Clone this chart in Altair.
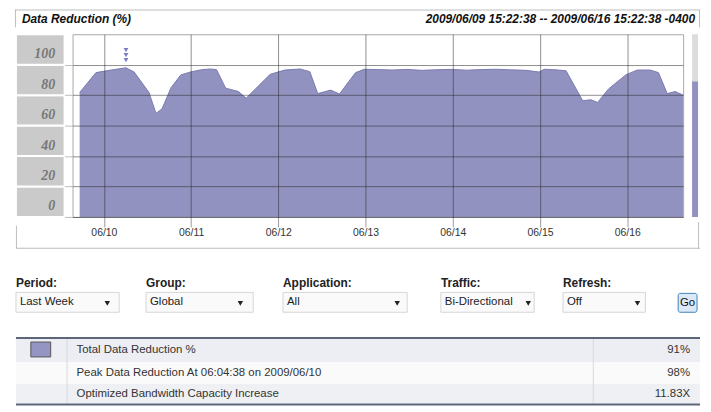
import altair as alt
import pandas as pd

# ---------------- data ----------------
times = [
    "2009-06-09T17:20", "2009-06-09T21:50", "2009-06-10T01:30", "2009-06-10T06:04:38",
    "2009-06-10T08:20", "2009-06-10T12:25", "2009-06-10T14:20", "2009-06-10T16:00",
    "2009-06-10T18:30", "2009-06-10T21:10", "2009-06-10T23:50", "2009-06-11T02:50",
    "2009-06-11T05:20", "2009-06-11T07:00", "2009-06-11T09:30", "2009-06-11T13:00",
    "2009-06-11T15:10", "2009-06-11T18:30", "2009-06-11T21:45", "2009-06-12T01:50",
    "2009-06-12T06:00", "2009-06-12T08:40", "2009-06-12T10:50", "2009-06-12T14:25",
    "2009-06-12T16:50", "2009-06-12T19:05", "2009-06-12T21:15", "2009-06-12T23:40",
    "2009-06-13T03:15", "2009-06-13T07:20", "2009-06-13T11:25", "2009-06-13T15:30",
    "2009-06-13T19:35", "2009-06-13T23:45", "2009-06-14T03:50", "2009-06-14T07:55",
    "2009-06-14T12:00", "2009-06-14T16:05", "2009-06-14T20:10", "2009-06-14T23:45",
    "2009-06-15T01:10", "2009-06-15T04:25", "2009-06-15T07:10", "2009-06-15T11:45",
    "2009-06-15T14:00", "2009-06-15T15:50", "2009-06-15T18:50", "2009-06-15T23:35",
    "2009-06-16T02:45", "2009-06-16T06:20", "2009-06-16T08:35", "2009-06-16T11:00",
    "2009-06-16T13:10", "2009-06-16T15:22:38",
]
values = [
    81.7, 94.8, 96.3, 98.0,
    95.2, 81.7, 68.0, 71.0,
    85.0, 93.3, 95.2, 96.7,
    97.2, 96.7, 84.6, 82.4,
    78.0, 86.0, 93.7, 96.5,
    97.2, 95.4, 81.0, 83.3,
    80.7, 88.0, 94.8, 97.0,
    96.8, 96.5, 96.9, 96.3,
    96.7, 96.9, 96.4, 96.8,
    97.0, 96.6, 96.3, 95.2,
    97.0, 96.6, 96.0, 76.3,
    77.0, 75.2, 84.0, 93.3,
    96.5, 96.5, 94.8, 81.0,
    82.4, 80.0,
]
peak_time = ["2009-06-10T06:04:38"]
current_value = 89

y_ticks = [0, 20, 40, 60, 80, 100]
cell_lo = [0, 20, 40, 60, 80, 100]
cell_hi = [20, 40, 60, 80, 100, 120]
x_days = [10, 11, 12, 13, 14, 15, 16]

title_left = "Data Reduction (%)"
title_right = "2009/06/09 15:22:38 -- 2009/06/16 15:22:38 -0400"

control_labels = ["Period:", "Group:", "Application:", "Traffic:", "Refresh:"]
control_values = ["Last Week", "Global", "All", "Bi-Directional", "Off"]

table_labels = [
    "Total Data Reduction %",
    "Peak Data Reduction At 06:04:38 on 2009/06/10",
    "Optimized Bandwidth Capacity Increase",
]
table_values = ["91%", "98%", "11.83X"]

# ---------------- layout helpers ----------------
OX, OY = 73, 33          # page coords of plot origin
PW, PH = 615, 184        # plot size
one = pd.DataFrame({"k": [0]})
FONT = "Liberation Sans"


def P(X):
    return X - OX


def Q(Y):
    return Y - OY


def box(x0, y0, x1, y1, **kw):
    return alt.Chart(one).mark_rect(**kw).encode(
        x=alt.value(P(x0)), x2=alt.value(P(x1)),
        y=alt.value(Q(y0)), y2=alt.value(Q(y1)))


def txt(s, X, Y, align="left", size=11.5, weight="normal", style="normal",
        color="#222", font=FONT):
    return alt.Chart(one).mark_text(
        text=s, align=align, baseline="middle", fontSize=size,
        fontWeight=weight, fontStyle=style, color=color, font=font
    ).encode(x=alt.value(P(X)), y=alt.value(Q(Y)))


def arrow(X, Y):
    return alt.Chart(one).mark_point(
        shape="triangle-down", filled=True, size=30, color="#222", opacity=1
    ).encode(x=alt.value(P(X)), y=alt.value(Q(Y)))


xscale = alt.Scale(domain=[
    alt.DateTime(year=2009, month=6, date=9, hours=15, minutes=22, seconds=38),
    alt.DateTime(year=2009, month=6, date=16, hours=15, minutes=22, seconds=38)])
yscale = alt.Scale(domain=[0, 120], nice=False)

xaxis = alt.Axis(
    values=[alt.DateTime(year=2009, month=6, date=d) for d in x_days],
    format="%m/%d", labelFont=FONT, labelFontSize=10.5, labelColor="#333",
    tickSize=10, tickColor="#222", tickOpacity=0.45, gridColor="#222",
    gridOpacity=0.5, domain=False, labelPadding=1, zindex=1,
    labelOverlap=False, labelFlush=False, title=None)
yaxis = alt.Axis(
    values=y_ticks, labelOffset=-11, labelBaseline="middle", labelAlign="right",
    labelFont="Liberation Serif", labelFontStyle="italic", labelFontWeight="bold",
    labelFontSize=14, labelColor="#777", tickSize=8, tickColor="#bbb",
    labelPadding=10, gridColor="#222", gridOpacity=0.5, domain=False, zindex=1,
    labelOverlap=False, labelFlush=False, title=None)

BORDER = "#bdbdbd"
layers = []

# main area (first layer: owns the axes)
df = pd.DataFrame({"t": times, "v": values})
area = alt.Chart(df).mark_area(
    color="#9292c0", opacity=1, interpolate="linear",
    line={"color": "#7a7ab0", "strokeWidth": 1}
).encode(
    x=alt.X("t:T", scale=xscale, axis=xaxis),
    y=alt.Y("v:Q", scale=yscale, axis=yaxis),
)
layers.append(area)

# y label cells
cells = pd.DataFrame({"lo": cell_lo, "hi": cell_hi})
layers.append(
    alt.Chart(cells).mark_rect(fill="#cacaca", stroke="white", strokeWidth=2).encode(
        y=alt.Y("lo:Q", scale=yscale, axis=yaxis), y2="hi:Q",
        x=alt.value(P(16)), x2=alt.value(P(65)))
)

# title bar
layers += [
    box(15, 8, 705, 9, color=BORDER),
    box(15, 8, 16, 26, color=BORDER),
    box(704, 8, 705, 26, color=BORDER),
    txt(title_left, 22, 18, size=12, weight="bold", style="italic", color="#111"),
    txt(title_right, 700, 18, align="right", size=12, weight="bold",
        style="italic", color="#111"),
]
# bottom frame of chart
layers += [
    box(16, 226, 17, 249, color=BORDER),
    box(16, 248, 705, 249, color=BORDER),
    box(703, 222, 704, 249, color=BORDER),
]

# peak markers
pk = pd.DataFrame({"t": peak_time})
for yy in (49, 54, 59):
    layers.append(
        alt.Chart(pk).mark_point(shape="triangle-down", filled=True, size=24,
                                 color="#7c7cc6", opacity=1).encode(
            x=alt.X("t:T", scale=xscale, axis=xaxis), y=alt.value(Q(yy))))

# right side bar
layers += [
    box(697, 33, 703, 217, color="#dcdcdc"),
    alt.Chart(one).mark_rect(color="#9292c0").encode(
        y=alt.Y(datum=current_value, scale=yscale, axis=yaxis), y2=alt.Y2(datum=0),
        x=alt.value(P(697)), x2=alt.value(P(703))),
]

# controls
lab_x = [16, 147, 285, 444, 567]
box_r = [120, 255, 410, 538, 650]
arr_x = [108, 242, 400, 532, 642]
for i in range(5):
    layers += [
        txt(control_labels[i], lab_x[i], 284, size=12, weight="bold", color="#222"),
        box(lab_x[i], 293, box_r[i], 313, fill="#fafafa", stroke="#d6d6d6", strokeWidth=1),
        txt(control_values[i], lab_x[i] + 4, 303, size=11.5, color="#222"),
        arrow(arr_x[i], 304),
    ]
layers += [
    box(683, 294, 702, 313, fill="#dbe9f7", stroke="#3f82b8", strokeWidth=1,
        cornerRadius=2),
    txt("Go", 692.5, 304, align="center", size=11.5, color="#111"),
]

# table
row_y = [(340, 363), (363, 385), (385, 405)]
row_fill = ["#eceef3", "#fafafb", "#eef0f4"]
for i in range(3):
    layers.append(box(16, row_y[i][0], 705, row_y[i][1], color=row_fill[i]))
layers += [
    box(67, 340, 68, 405, color="#d5d9e0"),
    box(597, 340, 598, 405, color="#d5d9e0"),
    box(16, 338, 705, 340, color="#5d6679"),
    box(16, 405, 705, 407, color="#5d6679"),
    box(31, 343, 51, 358, fill="#9595c3", stroke="#555", strokeWidth=1),
]
for i in range(3):
    yc = (row_y[i][0] + row_y[i][1]) / 2
    layers += [
        txt(table_labels[i], 77, yc, size=11.5, color="#333"),
        txt(table_values[i], 695, yc, align="right", size=11.5, color="#333"),
    ]

chart = alt.layer(*layers).properties(
    width=PW, height=PH,
    autosize=alt.AutoSizeParams(type="none"),
    padding={"left": OX - 8, "top": OY - 8, "right": 703 + 5 - (OX + PW), "bottom": 408 - (OY + PH)},
    background="white",
).configure_view(stroke="#a8a8a8", strokeWidth=1)

chart.save("out.html", embed_options={"renderer": "svg", "actions": False})
